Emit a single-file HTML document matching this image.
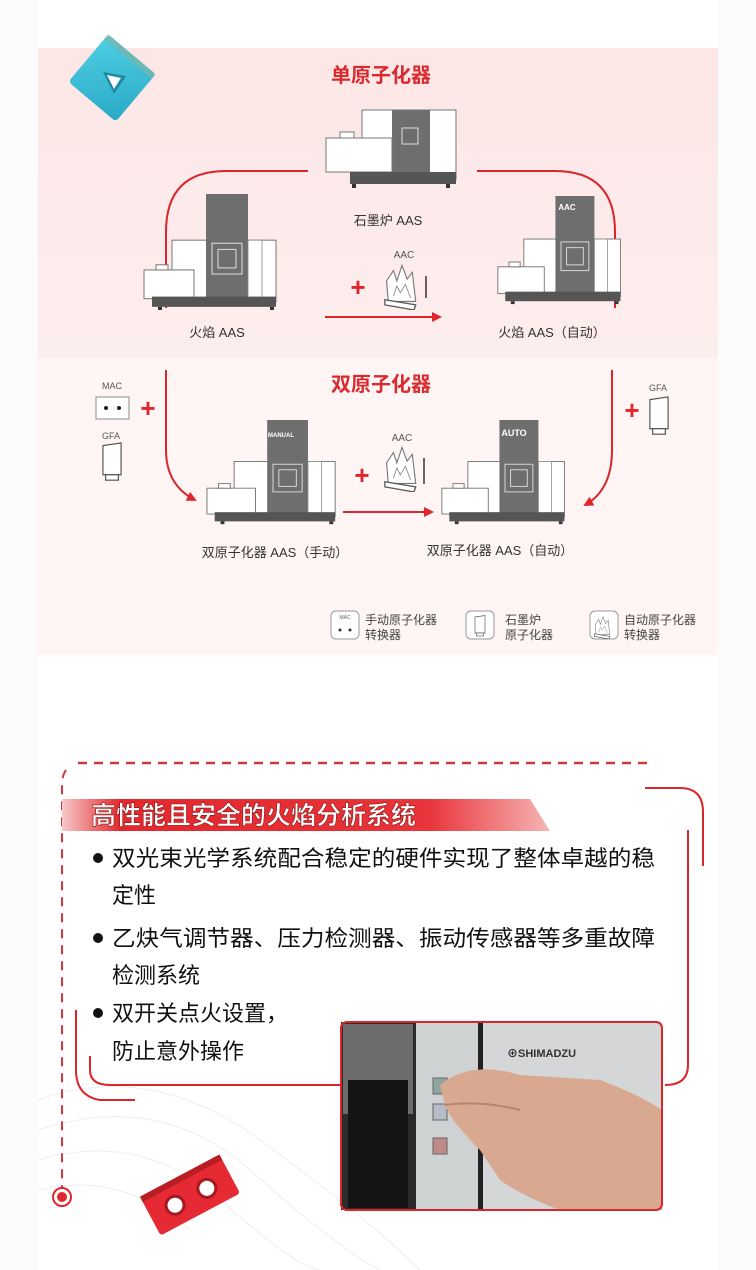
<!DOCTYPE html>
<html><head><meta charset="utf-8">
<style>
html,body{margin:0;padding:0;}
body{width:756px;height:1270px;background:#fbfbfb;position:relative;overflow:hidden;font-family:"Liberation Sans","Noto Sans CJK SC",sans-serif;}
svg{position:absolute;left:0;top:0;}
</style></head>
<body>
<svg width="756" height="1270" viewBox="0 0 756 1270" xmlns="http://www.w3.org/2000/svg" font-family="Liberation Sans, Noto Sans CJK SC, sans-serif">
<defs>
 <linearGradient id="pk" x1="0" y1="0" x2="0" y2="1">
  <stop offset="0" stop-color="#fde6e6"/><stop offset="1" stop-color="#fdeeee"/>
 </linearGradient>
 <linearGradient id="ban" x1="0" y1="0" x2="1" y2="0">
  <stop offset="0" stop-color="#f7c9c9"/><stop offset="0.12" stop-color="#e3272d"/><stop offset="0.75" stop-color="#e8343a"/><stop offset="1" stop-color="#f6b5b5"/>
 </linearGradient>
 <linearGradient id="cy" x1="0" y1="0" x2="1" y2="1">
  <stop offset="0" stop-color="#4fd0e4"/><stop offset="1" stop-color="#2aa9c6"/>
 </linearGradient>
 <symbol id="inst" viewBox="0 0 140 115" preserveAspectRatio="none">
  <rect x="30" y="45" width="104" height="60" fill="#fff" stroke="#777" stroke-width="1"/>
  <rect x="64" y="0" width="42" height="108" fill="#6e6e6e"/>
  <rect x="70" y="48" width="30" height="30" fill="none" stroke="#ddd" stroke-width="1"/>
  <rect x="76" y="54" width="18" height="18" fill="none" stroke="#ddd" stroke-width="1"/>
  <rect x="106" y="45" width="14" height="60" fill="#fff" stroke="#888" stroke-width="0.8"/>
  <rect x="2" y="74" width="50" height="28" fill="#fff" stroke="#777" stroke-width="1"/>
  <rect x="14" y="69" width="12" height="5" fill="#fff" stroke="#777" stroke-width="1"/>
  <rect x="10" y="100" width="124" height="10" fill="#555"/>
  <rect x="16" y="110" width="4" height="3" fill="#333"/><rect x="128" y="110" width="4" height="3" fill="#333"/>
 </symbol>
 <symbol id="inst2" viewBox="0 0 140 85" preserveAspectRatio="none">
  <rect x="40" y="2" width="94" height="70" fill="#fff" stroke="#777" stroke-width="1"/>
  <rect x="70" y="2" width="38" height="72" fill="#6e6e6e"/>
  <rect x="80" y="20" width="16" height="16" fill="none" stroke="#ddd" stroke-width="1"/>
  <rect x="4" y="30" width="66" height="34" fill="#fff" stroke="#777" stroke-width="1"/>
  <rect x="18" y="24" width="14" height="6" fill="#fff" stroke="#777" stroke-width="1"/>
  <rect x="28" y="64" width="106" height="12" fill="#555"/>
  <rect x="30" y="76" width="4" height="4" fill="#333"/><rect x="124" y="76" width="4" height="4" fill="#333"/>
 </symbol>
 <symbol id="aac" viewBox="0 0 44 56">
  <path d="M6 46 L4 22 L12 10 L16 22 L22 4 L28 20 L34 12 L38 46 Z" fill="#fff" stroke="#777" stroke-width="1.3"/>
  <path d="M12 40 L16 28 L20 36 L26 26 L32 42" fill="none" stroke="#888" stroke-width="1"/>
  <path d="M2 44 L38 50 L36 56 L2 50 Z" fill="#fff" stroke="#555" stroke-width="1.5"/>
 </symbol>
 <symbol id="gfa" viewBox="0 0 24 44">
  <path d="M2 4 L22 1 L22 36 L2 36 Z" fill="#fff" stroke="#555" stroke-width="1.3"/>
  <rect x="5" y="36" width="14" height="6" fill="#fff" stroke="#555" stroke-width="1.3"/>
 </symbol>
 <marker id="ar" viewBox="0 0 10 10" refX="8" refY="5" markerWidth="5" markerHeight="5" orient="auto"><path d="M0 0 L10 5 L0 10 Z" fill="#e0262c"/></marker>
</defs>

<rect x="38" y="0" width="680" height="1270" fill="#fff"/>
<rect x="38" y="48" width="680" height="310" fill="url(#pk)"/>
<rect x="38" y="358" width="680" height="297" fill="#fff5f5"/>

<!-- cyan cube -->
<g transform="translate(112,78) rotate(40)">
 <rect x="-31" y="-31" width="62" height="62" rx="4" fill="url(#cy)"/>
 <rect x="-31" y="-31" width="62" height="6" fill="#7fb3a8" opacity="0.7"/>
</g>
<path d="M103 72 L126 76 L114 94 Z" fill="#1c8aa3"/><path d="M107 75 L121 78 L114 89 Z" fill="#fff"/>

<!-- top section -->
<text x="381" y="82" text-anchor="middle" font-size="20" font-weight="bold" fill="#d92a2f">单原子化器</text>
<path d="M166 308 V232 Q166 171 226 171 H308" fill="none" stroke="#d9262b" stroke-width="2"/>
<path d="M477 171 H555 Q615 171 615 232 V308" fill="none" stroke="#d9262b" stroke-width="2"/>
<use href="#inst2" x="322" y="108" width="140" height="85"/>
<text x="388" y="225" text-anchor="middle" font-size="13" fill="#333">石墨炉 AAS</text>
<use href="#inst" x="142" y="194" width="140" height="118"/>
<text x="217" y="337" text-anchor="middle" font-size="13" fill="#333">火焰 AAS</text>
<use href="#inst" x="496" y="196" width="130" height="110"/>
<text x="567" y="210" text-anchor="middle" font-size="8" fill="#fff" font-weight="bold">AAC</text>
<text x="552" y="337" text-anchor="middle" font-size="13" fill="#333">火焰 AAS（自动）</text>
<text x="404" y="258" text-anchor="middle" font-size="10" fill="#555">AAC</text>
<use href="#aac" x="382" y="262" width="40" height="48"/>
<path d="M426 276 V298" stroke="#333" stroke-width="1.5"/>
<text x="358" y="296" text-anchor="middle" font-size="26" font-weight="bold" fill="#e0262c">+</text>
<line x1="325" y1="317" x2="440" y2="317" stroke="#e0262c" stroke-width="2" marker-end="url(#ar)"/>

<!-- second section -->
<text x="381" y="391" text-anchor="middle" font-size="20" font-weight="bold" fill="#d92a2f">双原子化器</text>
<path d="M166 370 V450 Q166 485 195 500" fill="none" stroke="#d9262b" stroke-width="2" marker-end="url(#ar)"/>
<path d="M612 370 V450 Q612 490 585 505" fill="none" stroke="#d9262b" stroke-width="2" marker-end="url(#ar)"/>
<text x="112" y="389" text-anchor="middle" font-size="9" fill="#555">MAC</text>
<rect x="96" y="397" width="33" height="22" fill="#fff" stroke="#888"/>
<circle cx="106" cy="408" r="2" fill="#222"/><circle cx="119" cy="408" r="2" fill="#222"/>
<text x="148" y="417" text-anchor="middle" font-size="26" font-weight="bold" fill="#e0262c">+</text>
<text x="111" y="439" text-anchor="middle" font-size="9" fill="#555">GFA</text>
<use href="#gfa" x="100" y="442" width="24" height="40"/>
<text x="658" y="391" text-anchor="middle" font-size="9" fill="#555">GFA</text>
<use href="#gfa" x="647" y="396" width="24" height="40"/>
<text x="632" y="419" text-anchor="middle" font-size="26" font-weight="bold" fill="#e0262c">+</text>
<use href="#inst" x="205" y="420" width="136" height="106"/>
<text x="281" y="437" text-anchor="middle" font-size="6" fill="#fff" font-weight="bold">MANUAL</text>
<text x="275" y="557" text-anchor="middle" font-size="13" fill="#333">双原子化器 AAS（手动）</text>
<use href="#inst" x="440" y="420" width="130" height="106"/>
<text x="514" y="436" text-anchor="middle" font-size="9" fill="#fff" font-weight="bold">AUTO</text>
<text x="500" y="555" text-anchor="middle" font-size="13" fill="#333">双原子化器 AAS（自动）</text>
<text x="402" y="441" text-anchor="middle" font-size="10" fill="#555">AAC</text>
<use href="#aac" x="382" y="444" width="40" height="48"/>
<path d="M424 458 V484" stroke="#333" stroke-width="1.5"/>
<text x="362" y="484" text-anchor="middle" font-size="26" font-weight="bold" fill="#e0262c">+</text>
<line x1="343" y1="512" x2="432" y2="512" stroke="#e0262c" stroke-width="2" marker-end="url(#ar)"/>

<!-- legend -->
<rect x="331" y="611" width="28" height="28" rx="5" fill="#fff" stroke="#999"/>
<text x="345" y="619" text-anchor="middle" font-size="5" fill="#666">MAC</text>
<circle cx="340" cy="630" r="1.5" fill="#333"/><circle cx="350" cy="630" r="1.5" fill="#333"/>
<text x="365" y="624" font-size="12" fill="#444">手动原子化器</text>
<text x="365" y="639" font-size="12" fill="#444">转换器</text>
<rect x="466" y="611" width="28" height="28" rx="5" fill="#fff" stroke="#999"/>
<use href="#gfa" x="474" y="615" width="12" height="22"/>
<text x="505" y="624" font-size="12" fill="#444">石墨炉</text>
<text x="505" y="639" font-size="12" fill="#444">原子化器</text>
<rect x="590" y="611" width="28" height="28" rx="5" fill="#fff" stroke="#999"/>
<use href="#aac" x="593" y="615" width="20" height="24"/>
<text x="624" y="624" font-size="12" fill="#444">自动原子化器</text>
<text x="624" y="639" font-size="12" fill="#444">转换器</text>

<!-- bottom decorative lines -->
<g stroke="#eee" fill="none" stroke-width="1">
 <path d="M38 1100 Q150 1060 260 1140 T420 1270"/><path d="M38 1130 Q160 1090 250 1170 T380 1270"/>
 <path d="M38 1160 Q140 1130 220 1200 T320 1270"/><path d="M38 1190 Q120 1170 190 1230"/>
</g>
<line x1="78" y1="763" x2="648" y2="763" stroke="#cf3a40" stroke-width="2.5" stroke-dasharray="9,7"/>
<path d="M66 770 Q62 776 62 784 V1188" fill="none" stroke="#cf3a40" stroke-width="2" stroke-dasharray="9,7"/>
<circle cx="62" cy="1197" r="9" fill="#fff" stroke="#e0262c" stroke-width="2"/>
<circle cx="62" cy="1197" r="5" fill="#e0262c"/>
<path d="M645 788 H680 Q703 788 703 812 V866" fill="none" stroke="#d9262b" stroke-width="2"/>
<path d="M688 830 V1065 Q688 1085 665 1085" fill="none" stroke="#d9262b" stroke-width="2"/>
<path d="M90 1056 V1070 Q90 1085 110 1085 H340" fill="none" stroke="#d9262b" stroke-width="2"/>
<path d="M76 1010 V1070 Q76 1096 100 1100 H135" fill="none" stroke="#d9262b" stroke-width="2"/>

<!-- banner -->
<polygon points="62,799 530,799 550,831 62,831" fill="url(#ban)"/>
<text x="91" y="824" font-size="25" font-weight="bold" fill="#fff" stroke="#8a1515" stroke-width="0.6">高性能且安全的火焰分析系统</text>

<g font-size="22" fill="#111">
 <circle cx="98" cy="858" r="5" fill="#111"/>
 <text x="112" y="866" textLength="543" lengthAdjust="spacingAndGlyphs">双光束光学系统配合稳定的硬件实现了整体卓越的稳</text>
 <text x="112" y="903">定性</text>
 <circle cx="98" cy="938" r="5" fill="#111"/>
 <text x="112" y="946" textLength="543" lengthAdjust="spacingAndGlyphs">乙炔气调节器、压力检测器、振动传感器等多重故障</text>
 <text x="112" y="983">检测系统</text>
 <circle cx="98" cy="1013" r="5" fill="#111"/>
 <text x="112" y="1021">双开关点火设置，</text>
 <text x="112" y="1059">防止意外操作</text>
</g>

<!-- photo -->
<g>
 <rect x="341" y="1022" width="321" height="188" rx="6" fill="#c9ccce"/>
 <rect x="341" y="1022" width="75" height="188" fill="#2b2b2b"/>
 <rect x="343" y="1024" width="70" height="90" fill="#6c6c6c"/>
 <rect x="348" y="1080" width="60" height="128" fill="#141414"/>
 <rect x="416" y="1022" width="62" height="188" fill="#cfd2d3"/>
 <rect x="478" y="1022" width="5" height="188" fill="#222"/>
 <rect x="483" y="1022" width="179" height="188" fill="#d4d6d8"/>
 <rect x="433" y="1078" width="14" height="16" fill="#8fa6a0" stroke="#666"/>
 <rect x="433" y="1104" width="14" height="16" fill="#b5bcc5" stroke="#666"/>
 <rect x="433" y="1138" width="14" height="16" fill="#c08a8a" stroke="#666"/>
 <text x="507" y="1057" font-size="11" font-weight="bold" fill="#333">⊕SHIMADZU</text>
 <path d="M440 1085 Q470 1060 520 1075 L600 1080 Q640 1095 662 1110 V1210 H560 Q520 1195 500 1180 L480 1150 Q450 1120 445 1105 Z" fill="#d9a890"/>
 <path d="M445 1105 Q480 1100 520 1110" fill="none" stroke="#b58670" stroke-width="2"/>
 <rect x="341" y="1022" width="321" height="188" rx="6" fill="none" stroke="#d9262b" stroke-width="2"/>
</g>

<!-- red block -->
<g transform="translate(190,1195) rotate(-28)">
 <rect x="-45" y="-22" width="90" height="44" rx="3" fill="#e52a33"/>
 <rect x="-45" y="-22" width="90" height="6" fill="#b81d24"/>
 <circle cx="-18" cy="2" r="9" fill="#fff" stroke="#a81820" stroke-width="3"/>
 <circle cx="18" cy="2" r="9" fill="#fff" stroke="#a81820" stroke-width="3"/>
</g>
</svg>
</body></html>
